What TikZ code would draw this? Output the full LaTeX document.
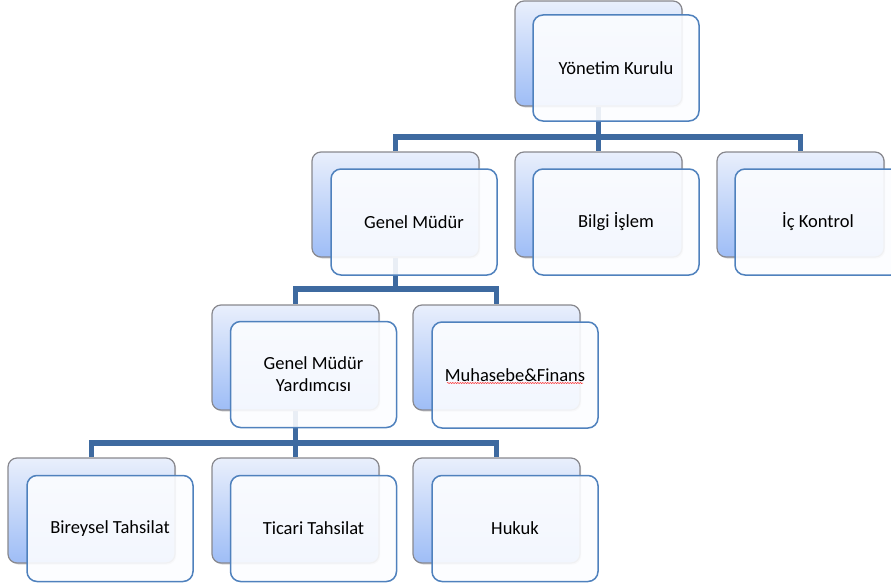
\documentclass[tikz,border=0pt]{standalone}
\usepackage{fontspec}
\setmainfont{Carlito}
\usetikzlibrary{shadows,backgrounds,decorations.pathmorphing}

\begin{document}
\begin{tikzpicture}[x=1pt,y=-1pt,
  backbox/.style={rounded corners=9pt, draw=backborder, line width=1.2pt,
    top color=backtop, bottom color=backbottom, minimum width=167pt,
    minimum height=105pt, inner sep=0pt,
    drop shadow={opacity=0.3,shadow xshift=1.2pt,shadow yshift=-1.5pt}},
  frontbox/.style={rounded corners=10pt, draw=frontborder, line width=1.5pt,
    fill=frontfill, fill opacity=0.9, text opacity=1, minimum width=166pt,
    minimum height=106pt, inner sep=0pt, align=center,
    font=\fontsize{18.5}{22}\selectfont},
  conn/.style={draw=connblue, line width=5.6pt}]
  % Define colors
  \definecolor{backtop}{RGB}{233,239,252}
  \definecolor{backbottom}{RGB}{158,189,246}
  \definecolor{backborder}{RGB}{136,136,142}
  \definecolor{frontborder}{RGB}{79,129,189}
  \definecolor{frontfill}{RGB}{252,253,255}
  \definecolor{connblue}{RGB}{62,106,160}

  \useasboundingbox (0,0) rectangle (891,586);
  \clip (0,0) rectangle (891,586);

  % Bus lines
  \coordinate (bus1) at (0,137);
  \coordinate (bus2) at (0,289);
  \coordinate (bus3) at (0,443);

  % Back boxes
  \node[backbox] (ykB) at (598.5,53.5) {};
  \node[backbox] (gmB) at (395.5,204.5) {};
  \node[backbox] (biB) at (598.5,204.5) {};
  \node[backbox] (ikB) at (800.5,204.5) {};
  \node[backbox] (gmyB) at (295.5,357.5) {};
  \node[backbox] (mfB) at (496.5,357.5) {};
  \node[backbox] (btB) at (91.5,510.5) {};
  \node[backbox] (ttB) at (295.5,510.5) {};
  \node[backbox] (hkB) at (496.5,510.5) {};

  % Front boxes
  \node[frontbox] (ykF) at (616,68) {Yönetim Kurulu};
  \node[frontbox] (gmF) at (414,222) {Genel Müdür};
  \node[frontbox] (biF) at (616,222) {Bilgi İşlem};
  \node[frontbox] (ikF) at (818,222) {İç Kontrol};
  \node[frontbox] (gmyF) at (313.5,374.5) {Genel Müdür\\Yardımcısı};
  \node[frontbox] (mfF) at (515,375) {Muhasebe\&Finans};
  \node[frontbox] (btF) at (110,528.5) {Bireysel Tahsilat};
  \node[frontbox] (ttF) at (313.5,528.5) {Ticari Tahsilat};
  \node[frontbox] (hkF) at (515,528.5) {Hukuk};

  % Spelling mark
  \draw[red!85, line width=0.5pt, decorate,
    decoration={snake, amplitude=0.6pt, segment length=2.5pt}]
    ([xshift=-68pt,yshift=-8pt]mfF.center) -- ([xshift=68pt,yshift=-8pt]mfF.center);

  % Connectors
  \begin{pgfonlayer}{background}
    \draw[conn] (ykB.south) -- (ykB.south |- bus1) -| (gmB.north);
    \draw[conn] (ykB.south |- bus1) -| (ikB.north);
    \draw[conn] (ykB.south |- bus1) -- (biB.north);

    \draw[conn] (gmB.south) -- (gmB.south |- bus2) -| (gmyB.north);
    \draw[conn] (gmB.south |- bus2) -| (mfB.north);

    \draw[conn] (gmyB.south) -- (gmyB.south |- bus3) -| (btB.north);
    \draw[conn] (gmyB.south |- bus3) -| (hkB.north);
    \draw[conn] (gmyB.south |- bus3) -- (ttB.north);
  \end{pgfonlayer}
\end{tikzpicture}
\end{document}
